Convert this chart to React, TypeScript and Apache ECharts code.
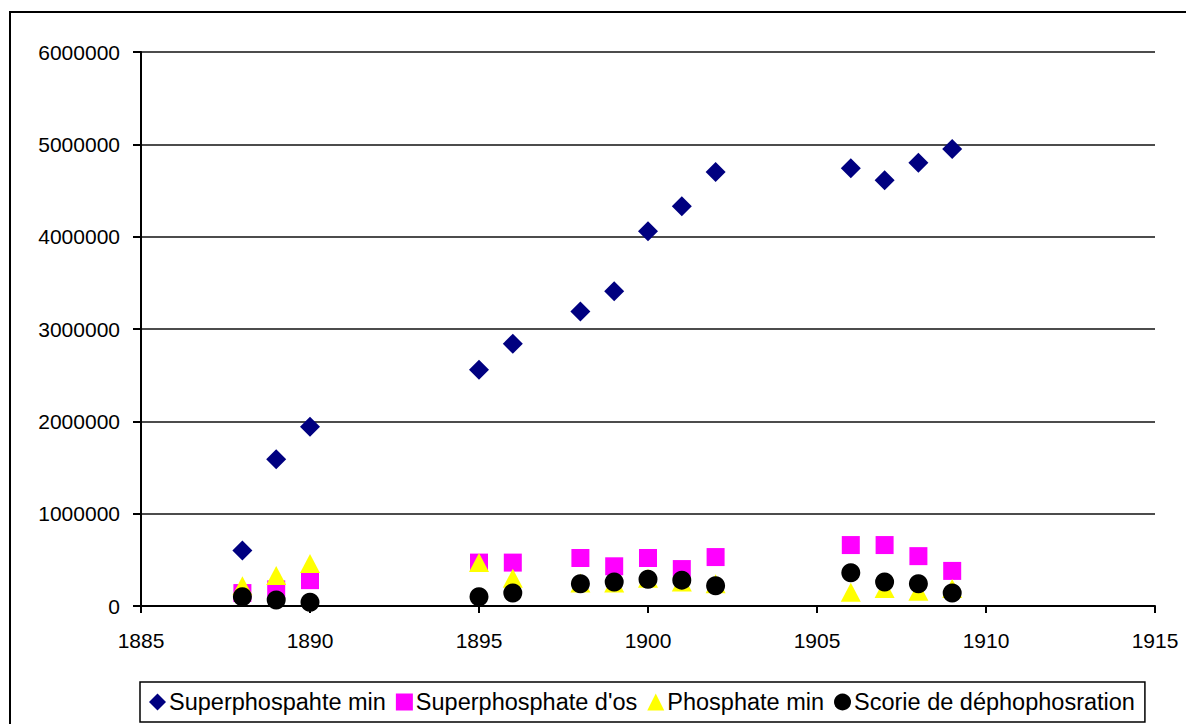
import React, { useEffect, useRef } from "react";
import * as echarts from "echarts";

const years = [1888, 1889, 1890, 1895, 1896, 1898, 1899, 1900, 1901, 1902, 1906, 1907, 1908, 1909];
const superMin = [600000, 1590000, 1940000, 2560000, 2840000, 3190000, 3410000, 4060000, 4330000, 4700000, 4740000, 4610000, 4800000, 4950000];
const superOs = [140000, 180000, 280000, 470000, 470000, 520000, 430000, 520000, 400000, 530000, 660000, 660000, 540000, 380000];
const phosMin = [220000, 330000, 460000, 470000, 300000, 250000, 250000, 300000, 260000, 240000, 150000, 190000, 160000, 190000];
const scorie = [100000, 65000, 40000, 100000, 140000, 240000, 260000, 290000, 280000, 220000, 360000, 260000, 240000, 140000];

const seriesNames = ["Superphospahte min", "Superphosphate d'os", "Phosphate min", "Scorie de déphophosration"];

const pair = (vals: number[]) => years.map((y, i) => [y, vals[i]]);

export default function App() {
  const ref = useRef<HTMLDivElement>(null);
  useEffect(() => {
    const chart = echarts.init(ref.current!, null, { renderer: "svg" });
    const font = "'Liberation Sans', Arial, sans-serif";
    chart.setOption({
      animation: false,
      backgroundColor: "#fff",
      textStyle: { fontFamily: font },
      grid: { left: 141, right: 31, top: 52, bottom: 118 },
      xAxis: {
        type: "value",
        min: 1885,
        max: 1915,
        interval: 5,
        axisLine: { show: true, lineStyle: { color: "#000", width: 2 } },
        axisTick: { show: true, length: 7, lineStyle: { color: "#000", width: 2 } },
        axisLabel: {
          color: "#000",
          fontSize: 21,
          fontFamily: font,
          margin: 24,
          formatter: (v: number) => String(v),
        },
        splitLine: { show: false },
      },
      yAxis: {
        type: "value",
        min: 0,
        max: 6000000,
        interval: 1000000,
        axisLine: { show: true, lineStyle: { color: "#000", width: 2 } },
        axisTick: { show: true, length: 8, lineStyle: { color: "#000", width: 2 } },
        axisLabel: {
          color: "#000",
          fontSize: 21,
          fontFamily: font,
          margin: 21,
          formatter: (v: number) => String(v),
        },
        splitLine: { show: true, lineStyle: { color: "#111", width: 1.5 } },
      },
      legend: {
        left: 140,
        top: 682,
        padding: [8, 10, 8, 9],
        borderColor: "#000",
        borderWidth: 1.5,
        itemGap: 10,
        itemWidth: 17,
        itemHeight: 17,
        textStyle: { fontSize: 23.5, color: "#000", fontFamily: font, padding: [0, 0, 0, -2] },
        data: [
          { name: seriesNames[0], icon: "diamond", itemStyle: { color: "#000080" } },
          { name: seriesNames[1], icon: "rect", itemStyle: { color: "#ff00ff" } },
          { name: seriesNames[2], icon: "triangle", itemStyle: { color: "#ffff00" } },
          { name: seriesNames[3], icon: "circle", itemStyle: { color: "#000" } },
        ],
      },
      graphic: [
        {
          type: "rect",
          shape: { x: 10, y: 12, width: 1200, height: 800 },
          style: { fill: "none", stroke: "#000", lineWidth: 2 },
          silent: true,
          z: -10,
        },
      ],
      series: [
        {
          name: seriesNames[0],
          type: "scatter",
          symbol: "diamond",
          symbolSize: [20, 20],
          itemStyle: { color: "#000080", opacity: 1 },
          data: pair(superMin),
          z: 1,
        },
        {
          name: seriesNames[1],
          type: "scatter",
          symbol: "rect",
          symbolSize: 18,
          itemStyle: { color: "#ff00ff", opacity: 1 },
          data: pair(superOs),
          z: 2,
        },
        {
          name: seriesNames[2],
          type: "scatter",
          symbol: "triangle",
          symbolSize: [20, 19],
          itemStyle: { color: "#ffff00", opacity: 1 },
          data: pair(phosMin),
          z: 3,
        },
        {
          name: seriesNames[3],
          type: "scatter",
          symbol: "circle",
          symbolSize: 19,
          itemStyle: { color: "#000", opacity: 1 },
          data: pair(scorie),
          z: 4,
        },
      ],
    });
    return () => chart.dispose();
  }, []);
  return (
    <div
      ref={ref}
      style={{ position: "absolute", left: 0, top: 0, width: 1186, height: 724 }}
    />
  );
}
